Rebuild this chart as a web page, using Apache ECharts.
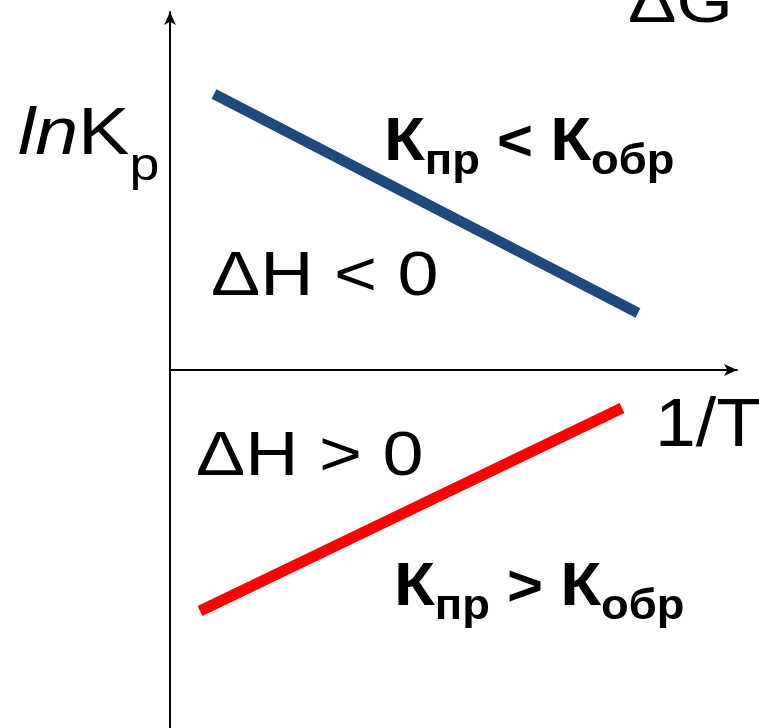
<!DOCTYPE html>
<html>
<head>
<meta charset="utf-8">
<script src="https://cdn.jsdelivr.net/npm/echarts@6/dist/echarts.min.js"></script>
<style>
html,body{margin:0;padding:0;background:#fff;}
#c{width:759px;height:728px;}
</style>
</head>
<body>
<div id="c"></div>
<script>
// Data (units: arbitrary, origin at axes crossing)
const blueX = [0.44, 4.68];
const blueY = [2.76, 0.57];
const redX = [0.30, 4.52];
const redY = [-2.41, -0.38];
const xRange = [0, 5.67];
const yRange = [-3.58, 3.58];

const FF = "'Liberation Sans', Arial, sans-serif";
const SX = 1.17;

function pairs(xs, ys){ return xs.map((x,i)=>[x, ys[i]]); }

function boldRich(){
  return {
    k:{fontFamily:FF, fontSize:62, fontWeight:'bold', verticalAlign:'top', padding:[0,0,0,0]},
    o:{fontFamily:FF, fontSize:57, fontWeight:'bold', verticalAlign:'top', padding:[4,0,0,0]},
    s:{fontFamily:FF, fontSize:42, fontWeight:'bold', verticalAlign:'top', padding:[29,0,0,0]}
  };
}

const chart = echarts.init(document.getElementById('c'), null, {renderer:'canvas'});
chart.setOption({
  backgroundColor:'#fff',
  animation:false,
  grid:{left:170, right:22, top:12, bottom:0, containLabel:false},
  xAxis:{type:'value', min:xRange[0], max:xRange[1],
    axisLine:{onZero:true, symbol:['none','arrow'], symbolSize:[9,13], lineStyle:{color:'#000', width:2}},
    axisTick:{show:false}, axisLabel:{show:false}, splitLine:{show:false}},
  yAxis:{type:'value', min:yRange[0], max:yRange[1],
    axisLine:{show:true, onZero:false, symbol:['none','arrow'], symbolSize:[9,13], lineStyle:{color:'#000', width:2}},
    axisTick:{show:false}, axisLabel:{show:false}, splitLine:{show:false}},
  series:[
    {type:'line', data:pairs(blueX, blueY), showSymbol:false, symbol:'none',
     lineStyle:{color:'#1F497D', width:10.5, cap:'butt'}},
    {type:'line', data:pairs(redX, redY), showSymbol:false, symbol:'none',
     lineStyle:{color:'#FF0000', width:11, cap:'butt'}}
  ],
  graphic:[
    {type:'text', x:628, y:5, scaleX:SX, style:{text:'ΔG', font:'62px '+FF, fill:'#000', textAlign:'left', textVerticalAlign:'middle'}},
    {type:'text', x:18, y:103, scaleX:SX, style:{
      text:'{i|ln}{n|K}{s|p}', fill:'#000', textAlign:'left', textVerticalAlign:'top',
      rich:{
        i:{fontFamily:FF, fontSize:66, fontStyle:'italic', verticalAlign:'top'},
        n:{fontFamily:FF, fontSize:66, verticalAlign:'top'},
        s:{fontFamily:FF, fontSize:46, verticalAlign:'top', padding:[41,0,0,0]}
      }}},
    {type:'text', x:384, y:112, scaleX:1.08, style:{
      text:'{k|К}{s|пр}{o| < }{k|К}{s|обр}', fill:'#000', textAlign:'left', textVerticalAlign:'top',
      rich:boldRich()}},
    {type:'text', x:394, y:557, scaleX:1.08, style:{
      text:'{k|К}{s|пр}{o| > }{k|К}{s|обр}', fill:'#000', textAlign:'left', textVerticalAlign:'top',
      rich:boldRich()}},
    {type:'text', x:211, y:278, scaleX:SX, style:{text:'ΔH < 0', font:'63px '+FF, fill:'#000', textAlign:'left', textVerticalAlign:'middle'}},
    {type:'text', x:196, y:458, scaleX:SX, style:{text:'ΔH > 0', font:'63px '+FF, fill:'#000', textAlign:'left', textVerticalAlign:'middle'}},
    {type:'text', x:655, y:427, scaleX:1.08, style:{text:'1/T', font:'68px '+FF, fill:'#000', textAlign:'left', textVerticalAlign:'middle'}}
  ]
});
</script>
</body>
</html>
